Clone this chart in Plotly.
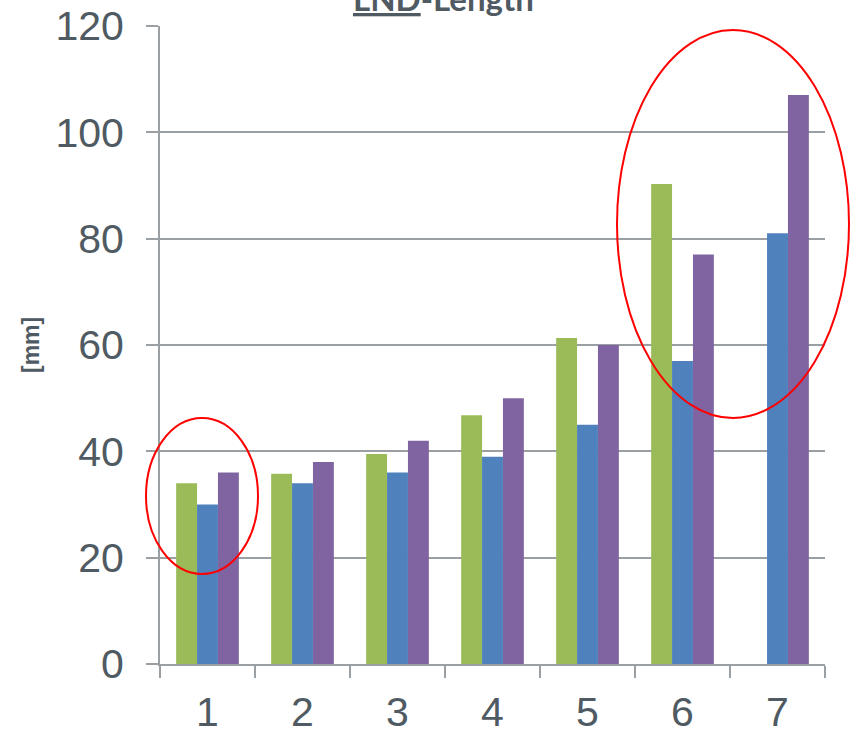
import plotly.graph_objects as go

categories = ["1", "2", "3", "4", "5", "6", "7"]
green_vals = [34.0, 35.8, 39.5, 46.8, 61.3, 90.3, None]
blue_vals = [30.0, 34.0, 36.0, 39.0, 45.0, 57.0, 81.0]
purple_vals = [36.0, 38.0, 42.0, 50.0, 60.0, 77.0, 107.0]
y_ticks = [0, 20, 40, 60, 80, 100, 120]

W, H = 850, 734
ML, MR, MT, MB = 160, 25, 26, 70
PW, PH = W - ML - MR, H - MT - MB

def px_x(p):
    return (p - ML) / PW

def px_y(p):
    return (H - MB - p) / PH

tick_font = dict(family="Liberation Sans, Arial, sans-serif", size=41, color="#4f5a62")
axis_col = "#9a9fa3"

fig = go.Figure()
for name, vals, col in [("A", green_vals, "#9bbb59"), ("B", blue_vals, "#4f81bd"), ("C", purple_vals, "#8064a2")]:
    fig.add_trace(go.Bar(x=categories, y=vals, name=name, marker=dict(color=col, line=dict(width=0))))

fig.update_layout(
    width=W, height=H,
    margin=dict(l=ML, r=MR, t=MT, b=MB, pad=0, autoexpand=False),
    paper_bgcolor="white", plot_bgcolor="white",
    showlegend=False,
    barmode="group", bargap=0.34, bargroupgap=0,
    xaxis=dict(type="category", tickson="boundaries", ticks="outside", ticklen=12,
               tickcolor=axis_col, tickwidth=2, showline=True, linecolor=axis_col, linewidth=2,
               showgrid=False, tickfont=tick_font, ticklabelstandoff=11, automargin=False),
    yaxis=dict(range=[0, 120], tickvals=y_ticks, ticks="outside", ticklen=12,
               tickcolor=axis_col, tickwidth=2, showline=True, linecolor=axis_col, linewidth=2,
               showgrid=True, gridcolor=axis_col, gridwidth=2, zeroline=False,
               tickfont=tick_font, ticklabelstandoff=14, automargin=False),
)

fig.add_annotation(text="<b><u>LND</u>-Length</b>", xref="paper", yref="paper",
                   x=px_x(443), y=px_y(20), xanchor="center", yanchor="bottom", showarrow=False,
                   font=dict(family="Lato, sans-serif", size=33, color="#4f5a62"))
fig.add_annotation(text="<b>[mm]</b>", xref="paper", yref="paper",
                   x=px_x(31), y=px_y(345), xanchor="center", yanchor="middle", textangle=-90,
                   showarrow=False, font=dict(family="Liberation Sans, Arial, sans-serif", size=23, color="#4f5a62"))

for (x0, y0, x1, y1) in [(146, 418, 258, 574), (617, 30, 849, 418)]:
    fig.add_shape(type="circle", xref="paper", yref="paper",
                  x0=px_x(x0), x1=px_x(x1), y0=px_y(y1), y1=px_y(y0),
                  line=dict(color="#ff0000", width=2), layer="above")

fig.write_html("out.html", config={"displayModeBar": False},
               post_script="document.body.style.margin='0';")
